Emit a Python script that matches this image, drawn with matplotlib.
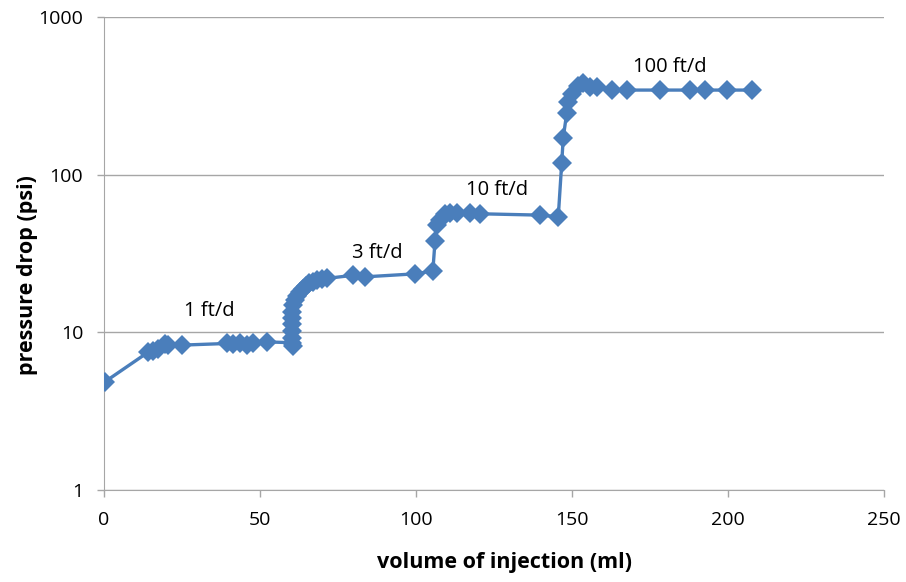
import matplotlib.pyplot as plt
from matplotlib.ticker import FixedLocator, FixedFormatter

# injection volume (ml) and pressure drop (psi)
volume = [0.3, 14.2, 15.8, 17.4, 19.6, 20.6, 24.9,
          39.3, 41.4, 43.6, 45.7, 47.9, 52.1, 60.1,
          60.6, 60.3, 60.1, 60.1, 60.3, 60.4, 60.7, 61.2, 61.9, 62.8,
          63.8, 64.7, 65.7, 67.0, 68.3, 69.9, 71.5,
          79.8, 83.7, 99.7, 105.4,
          106.1, 106.8, 107.7, 109.3, 110.9, 113.0, 117.3, 120.5,
          139.7, 145.6,
          146.7, 147.2, 148.3, 148.8, 149.9, 152.0, 153.6, 155.8, 157.9,
          162.7, 167.5, 178.2, 187.8, 192.6, 199.6, 207.6]
pressure = [4.86, 7.5, 7.6, 7.9, 8.4, 8.3, 8.3,
            8.5, 8.4, 8.5, 8.3, 8.5, 8.7, 8.6,
            8.2, 9.2, 10.2, 11.3, 12.3, 13.5, 14.9, 16.0, 17.0, 18.0,
            18.8, 19.7, 20.5, 21.0, 21.5, 21.8, 22.0,
            23.0, 22.5, 23.5, 24.5,
            38.0, 47.9, 51.5, 56.0, 57.5, 56.8, 56.8, 56.5,
            55.4, 54.1,
            118, 172, 245, 290, 325, 365, 380, 360, 360,
            344, 344, 344, 344, 344, 344, 344]

# flow-rate labels and where they sit
rate_labels = ["1 ft/d", "3 ft/d", "10 ft/d", "100 ft/d"]
rate_x = [33.7, 87.5, 126.0, 181.4]
rate_y = [13.6, 31.8, 80.0, 481.0]

plt.rcParams['font.family'] = ['Open Sans', 'DejaVu Sans']

fig = plt.figure(figsize=(9.06, 5.82), dpi=100)
ax = fig.add_axes([0.1148, 0.158, 0.8609, 0.8128])

ax.plot(volume, pressure, color='#4A7EBB', linewidth=2.4, marker='D',
        markersize=10, markeredgewidth=0, zorder=3)

ax.set_yscale('log')
ax.set_xlim(0, 250)
ax.set_ylim(1, 1000)
ax.yaxis.set_major_locator(FixedLocator([1, 10, 100, 1000]))
ax.yaxis.set_major_formatter(FixedFormatter(['1', '10', '100', '1000']))
ax.yaxis.set_minor_locator(FixedLocator([]))
ax.set_xticks([0, 50, 100, 150, 200, 250])

ax.grid(axis='y', color='#A6A6A6', linewidth=1)
ax.set_axisbelow(True)
for side in ['top', 'right']:
    ax.spines[side].set_visible(False)
for side in ['left', 'bottom']:
    ax.spines[side].set_color('#A6A6A6')
ax.tick_params(axis='both', colors='#A6A6A6', labelcolor='black',
               labelsize=14, length=5, width=1, direction='out')
ax.tick_params(axis='x', pad=10)
ax.tick_params(axis='y', pad=10)

ax.set_xlabel('volume of injection (ml)', fontsize=15.5, fontweight='bold')
ax.set_ylabel('pressure drop (psi)', fontsize=15.5, fontweight='bold')
ax.xaxis.set_label_coords(0.514, -0.13)
ax.yaxis.set_label_coords(-0.085, 0.455)

for label, x, y in zip(rate_labels, rate_x, rate_y):
    ax.text(x, y, label, fontsize=14.5, ha='center', va='center')

fig.savefig('out.png', dpi=100)
